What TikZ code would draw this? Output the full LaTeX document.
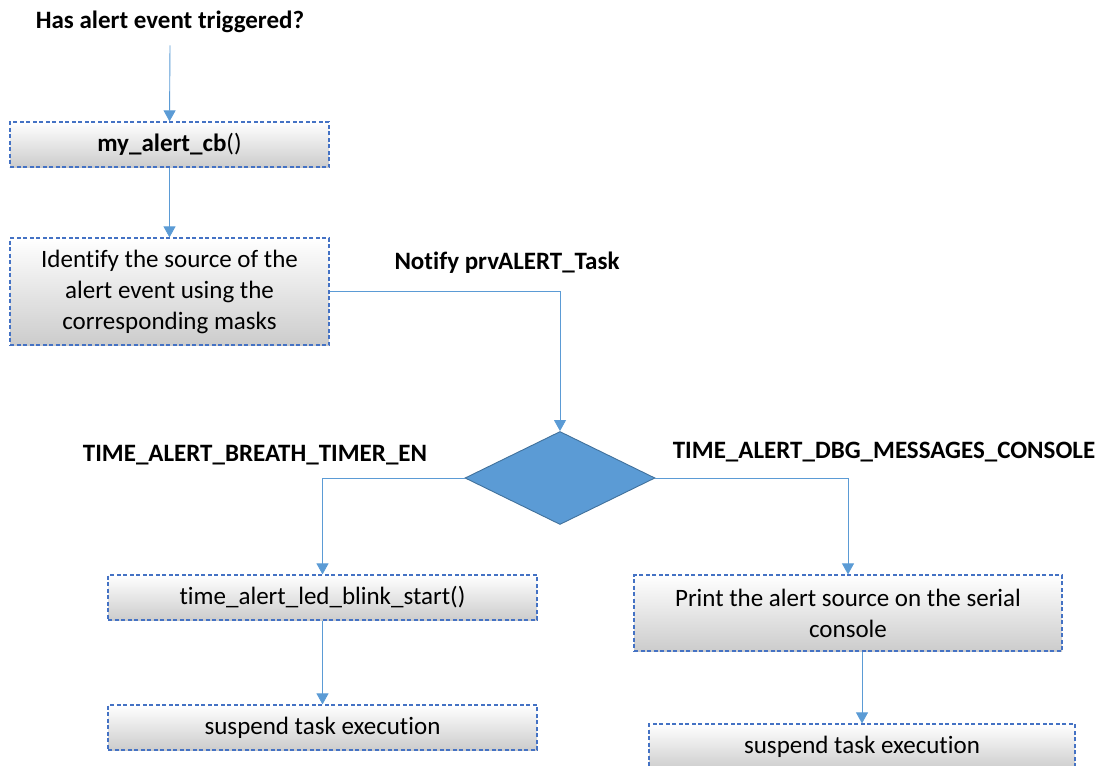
\documentclass[tikz,border=0pt]{standalone}
\usepackage{fontspec}
\setmainfont{Carlito}[Ligatures=NoCommon]
\usetikzlibrary{arrows.meta,shapes.geometric,positioning}
\definecolor{linkblue}{HTML}{5B9BD5}
\definecolor{boxblue}{HTML}{4472C4}
\definecolor{decedge}{HTML}{41719C}

\tikzset{
  box/.style={draw=boxblue,dash pattern=on 4pt off 2.5pt,line width=1.2pt,
    top color=white,bottom color=black!20,inner sep=0pt,align=center,
    font=\fontsize{25}{31}\selectfont},
  lbl/.style={font=\fontsize{25}{30}\selectfont\bfseries},
  elbow/.style={to path={-| (\tikztotarget)}},
}

\begin{document}
\begin{tikzpicture}[->,>={Triangle[length=11pt,width=12pt]},x=1pt,y=-1pt,
    every edge/.style={draw=linkblue,line width=0.9pt}]
  \useasboundingbox (0,0) rectangle (1099,765);

  \node[lbl]  (title) at (170,22) {Has alert event triggered?};
  \node[box,minimum width=319pt,minimum height=45pt]  (cb)    at (169.5,144.5) {\textbf{my\_alert\_cb}()};
  \node[box,minimum width=319pt,minimum height=107pt] (ident) at (169.5,291.5)
        {Identify the source of the\\alert event using the\\corresponding masks};
  \node[lbl]  (notify) at (507,263) {Notify prvALERT\_Task};
  \node[diamond,draw=decedge,fill=linkblue,line width=0.9pt,inner sep=0pt,
        minimum width=190pt,minimum height=93pt] (dec) at (560,478) {};
  \node[lbl]  (breath) at (255,455) {TIME\_ALERT\_BREATH\_TIMER\_EN};
  \node[lbl]  (dbg)    at (884,452) {TIME\_ALERT\_DBG\_MESSAGES\_CONSOLE};
  \node[box,minimum width=429pt,minimum height=45pt] (blink)   at (322.5,597.5) {time\_alert\_led\_blink\_start()};
  \node[box,minimum width=429pt,minimum height=45pt] (suspL)   at (322.5,727.5) {suspend task execution};
  \node[box,minimum width=428pt,minimum height=76pt] (print)   at (848,613)
        {Print the alert source on the serial\\console};
  \node[box,minimum width=426pt,minimum height=46pt] (suspR)   at (862,747) {suspend task execution};

  \path ([yshift=-9pt]title.south) edge (cb.north)
        (cb.south) edge (ident.north)
        (ident.east) edge[elbow] (dec.north)
        (dec.west) edge[elbow] (blink.north)
        (dec.east) edge[elbow] (print.north)
        (blink.south) edge (suspL.north)
        (print.south -| suspR.north) edge (suspR.north);
\end{tikzpicture}
\end{document}
